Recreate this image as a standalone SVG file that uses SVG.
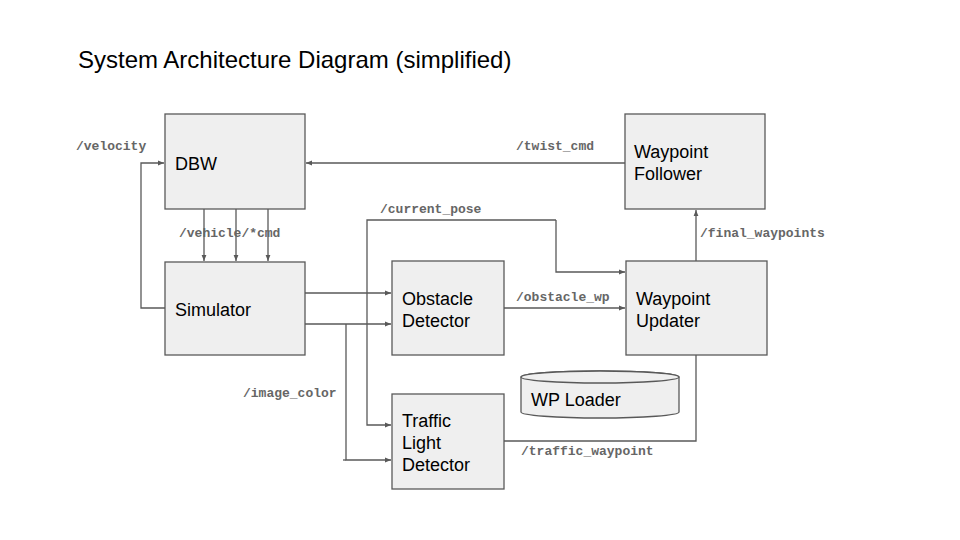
<svg xmlns="http://www.w3.org/2000/svg" width="960" height="540" viewBox="0 0 960 540">
<style>
.box{fill:#efefef;stroke:#595959;stroke-width:1.3}
.nt{font-family:"Liberation Sans",Arial,sans-serif;font-size:18px;fill:#000}
.lbl{font-family:"Liberation Mono","Courier New",monospace;font-size:13px;font-weight:bold;fill:#666}
.ln{fill:none;stroke:#595959;stroke-width:1.3}
.ar{marker-end:url(#ah)}
</style>
<defs>
<marker id="ah" viewBox="0 0 10 10" refX="10" refY="5" markerWidth="6" markerHeight="6" markerUnits="userSpaceOnUse" orient="auto">
<path d="M0,1 L10,5 L0,9 Z" fill="#595959"/>
</marker>
</defs>
<rect width="960" height="540" fill="#fff"/>
<text x="78" y="68" font-family="Liberation Sans,Arial,sans-serif" font-size="24" fill="#000">System Architecture Diagram (simplified)</text>

<g id="connectors">
<path class="ln ar" d="M165,308 H141 V163 H164"/>
<path class="ln ar" d="M625,163 H306"/>
<path class="ln ar" d="M204,209 V261"/>
<path class="ln ar" d="M236,209 V261"/>
<path class="ln ar" d="M268,209 V261"/>
<path class="ln ar" d="M305,293 H391"/>
<path class="ln ar" d="M305,324 H391"/>
<path class="ln ar" d="M556,220 H367 V425 H391"/>
<path class="ln ar" d="M556,220 V272 H625"/>
<path class="ln ar" d="M346,324 V460 H391"/>
<path class="ln" d="M343,460 H346"/>
<path class="ln ar" d="M504,308 H625"/>
<path class="ln ar" d="M696,261 V210"/>
<path class="ln" d="M504,441 H696 V355"/>
<text class="lbl" x="76" y="150">/velocity</text>
<text class="lbl" x="516" y="150">/twist_cmd</text>
<text class="lbl" x="179" y="237">/vehicle/*cmd</text>
<text class="lbl" x="380" y="213">/current_pose</text>
<text class="lbl" x="516" y="301">/obstacle_wp</text>
<text class="lbl" x="700" y="237">/final_waypoints</text>
<text class="lbl" x="243" y="397">/image_color</text>
<text class="lbl" x="521" y="455">/traffic_waypoint</text>
</g>

<g id="dbw"><rect class="box" x="165" y="114" width="140" height="95"/><text class="nt" x="175" y="170">DBW</text></g>
<g id="simulator"><rect class="box" x="165" y="262" width="140" height="93"/><text class="nt" x="175" y="316">Simulator</text></g>
<g id="obstacle-detector"><rect class="box" x="392" y="261" width="112" height="94"/><text class="nt" x="402" y="305">Obstacle</text><text class="nt" x="402" y="327">Detector</text></g>
<g id="waypoint-updater"><rect class="box" x="626" y="261" width="141" height="94"/><text class="nt" x="636" y="305">Waypoint</text><text class="nt" x="636" y="327">Updater</text></g>
<g id="waypoint-follower"><rect class="box" x="625" y="114" width="140" height="95"/><text class="nt" x="634" y="158">Waypoint</text><text class="nt" x="634" y="180">Follower</text></g>
<g id="traffic-light-detector"><rect class="box" x="392" y="394" width="112" height="95"/><text class="nt" x="402" y="427">Traffic</text><text class="nt" x="402" y="449">Light</text><text class="nt" x="402" y="471">Detector</text></g>
<g id="wp-loader">
<path class="box" d="M521,377 V412 A79,6 0 0 0 679,412 V377 A79,6 0 0 0 521,377 Z"/>
<ellipse class="box" cx="600" cy="377" rx="79" ry="6"/>
<text class="nt" x="531" y="406">WP Loader</text>
</g>
</svg>
